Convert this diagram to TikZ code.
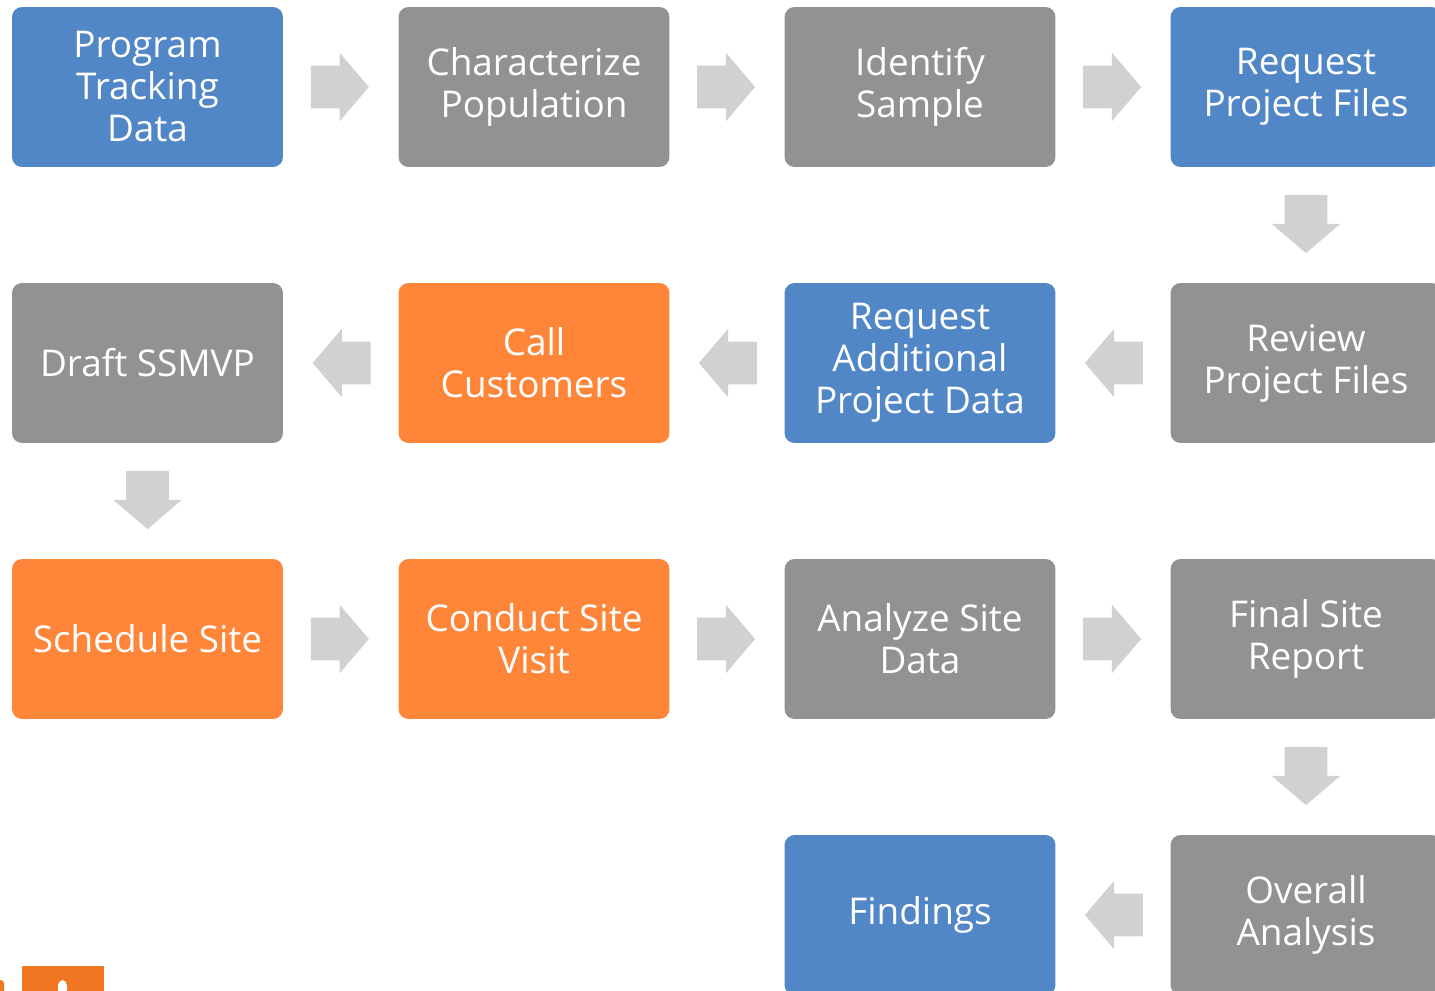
\documentclass[tikz,border=0pt]{standalone}
\usepackage{fontspec}
\setmainfont{Open Sans}
\usetikzlibrary{shapes.arrows,calc}
\definecolor{stepblue}{RGB}{81,134,199}
\definecolor{stepgray}{RGB}{146,146,146}
\definecolor{steporange}{RGB}{255,134,57}
\definecolor{arrowgray}{RGB}{209,209,209}
\definecolor{logoorange}{RGB}{240,118,33}
\tikzset{
  box/.style={rectangle, rounded corners=0.2cm, draw=none, text=white,
    minimum width=5.42cm, minimum height=3.2cm, align=center,
    font=\fontsize{21}{23.9}\selectfont},
  bluebox/.style={box, fill=stepblue},
  graybox/.style={box, fill=stepgray},
  orangebox/.style={box, fill=steporange},
  blockarrow/.style={single arrow, fill=arrowgray, draw=none,
    inner xsep=0pt, inner ysep=0.42cm, minimum height=1.16cm,
    single arrow head extend=0.26cm, single arrow tip angle=99}
}
\begin{document}
\begin{tikzpicture}[x=0.02cm,y=-0.02cm]
	\useasboundingbox (0,0) rectangle (1435,990);
	\clip (0,0) rectangle (1435,990);
	%Hàng 1
	\node[bluebox] (ptd) at (147.5,87) {Program\\Tracking\\Data};
	\node[graybox] (cp) at (534,87) {Characterize\\Population};
	\node[graybox] (ids) at (920,87) {Identify\\Sample};
	\node[bluebox] (rpf) at (1306,87) {Request\\Project Files};
	%Hàng 2
	\node[graybox] (ds) at (147.5,363) {Draft SSMVP};
	\node[orangebox] (cc) at (534,363) {Call\\Customers};
	\node[bluebox] (rapd) at (920,363) {Request\\Additional\\Project Data};
	\node[graybox] (rvf) at (1306,363) {Review\\Project Files};
	%Hàng 3
	\node[orangebox] (ss) at (147.5,639) {Schedule Site};
	\node[orangebox] (csv) at (534,639) {Conduct Site\\Visit};
	\node[graybox] (asd) at (920,639) {Analyze Site\\Data};
	\node[graybox] (fsr) at (1306,639) {Final Site\\Report};
	%Hàng 4
	\node[bluebox] (fnd) at (920,915) {Findings};
	\node[graybox] (oa) at (1306,915) {Overall\\Analysis};
	%Mũi tên:
	\foreach \a/\b/\ang in {ptd/cp/0, cp/ids/0, ids/rpf/0, rpf/rvf/-90,
		rvf/rapd/180, rapd/cc/180, cc/ds/180, ds/ss/-90,
		ss/csv/0, csv/asd/0, asd/fsr/0, fsr/oa/-90, oa/fnd/180}
		\node[blockarrow, rotate=\ang, xshift=-0.2cm] (arr-\a) at ($(\a)!0.5!(\b)$) {};
	%Logo
	\fill[logoorange] (22,966) rectangle (104,995);
	\fill[white, rounded corners=3] (58,995) rectangle (67,980);
	\fill[logoorange, rounded corners=2] (-6,995) rectangle (4,980);
\end{tikzpicture}
\end{document}
